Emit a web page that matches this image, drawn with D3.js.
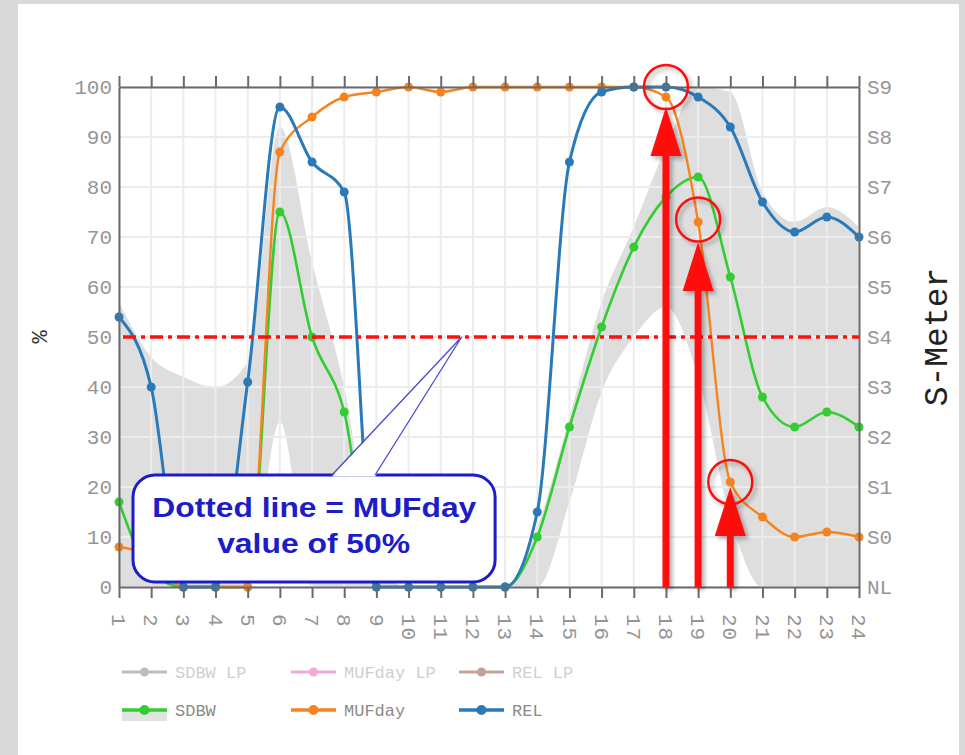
<!DOCTYPE html>
<html><head><meta charset="utf-8">
<script src="https://cdn.jsdelivr.net/npm/d3@7"></script>
<style>
html,body{margin:0;padding:0;background:#d9d9d9;}
svg{display:block;}
</style></head><body>
<svg id="chart" width="965" height="755"></svg>
<script>
// ---------- data ----------
const hours = [1,2,3,4,5,6,7,8,9,10,11,12,13,14,15,16,17,18,19,20,21,22,23,24];
const xTickLabels = ["1","2","3","4","5","6","7","8","9","10","11","12","13","14","15","16","17","18","19","20","21","22","23","24"];
const yTickValues = [0,10,20,30,40,50,60,70,80,90,100];
const yTickLabels = ["0","10","20","30","40","50","60","70","80","90","100"];
const sMeterLabels = ["NL","S0","S1","S2","S3","S4","S5","S6","S7","S8","S9"];
const relValues    = [54,40,0,0,41,96,85,79,0,0,0,0,0,15,85,99,100,100,98,92,77,71,74,70];
const mufdayValues = [8,6,0,0,0,87,94,98,99,100,99,100,100,100,100,100,100,98,73,21,14,10,11,10];
const sdbwValues   = [17,3,0,0,0,75,50,35,0,0,0,0,0,10,32,52,68,78,82,62,38,32,35,32];
const bandUpper    = [57,46,42,40,45,92,65,40,5,0,0,0,0,12,34,57,72,88,100,99,79,73,76,72];
const bandLower    = [0,0,0,0,0,33,0,0,0,0,0,0,0,0,17,39,50,56,42,14,0,0,0,0];
const mufThreshold = 50;
const arrowHours = [18,19,20];
const arrowTipValues = [96,69,20];
const circleHours = [18,19,20];
const circleValues = [100,73.5,21];
const legendRow1 = ["SDBW LP","MUFday LP","REL LP"];
const legendRow2 = ["SDBW","MUFday","REL"];
const calloutLines = ["Dotted line = MUFday","value of 50%"];

// ---------- styles ----------
const C = {
  rel:"#2a7ab9", muf:"#f58420", sdbw:"#33cc33",
  sdbwLP:"#bdbdbd", mufLP:"#f3a8da", relLP:"#c6a198",
  band:"#dedede", grid:"#ececec", axis:"#6a6a6a", tick:"#959595",
  red:"#ff1010", callout:"#1c1cc8"
};
const mono = "'Liberation Mono','DejaVu Sans Mono',monospace";

const svg = d3.select("#chart");
const x = d3.scaleLinear().domain([1,24]).range([119,859]);
const y = d3.scaleLinear().domain([0,100]).range([587,87]);

// panel
svg.append("rect").attr("x",18).attr("y",4).attr("width",941).attr("height",751).attr("fill","#fff");

const defs = svg.append("defs");
const f = defs.append("filter").attr("id","shadow").attr("x","-50%").attr("y","-50%").attr("width","200%").attr("height","200%");
f.append("feDropShadow").attr("dx",3).attr("dy",3).attr("stdDeviation",2).attr("flood-color","#000").attr("flood-opacity",0.3);

// band
const area = d3.area()
  .x((d,i)=>x(hours[i]))
  .y0((d,i)=>y(bandLower[i]))
  .y1(d=>y(d))
  .curve(d3.curveMonotoneX);
svg.append("path").datum(bandUpper).attr("d",area).attr("fill",C.band);

// grid
const grid = svg.append("g");
grid.selectAll("line.v").data(hours).join("line")
  .attr("x1",d=>x(d)).attr("x2",d=>x(d)).attr("y1",y(0)).attr("y2",y(100))
  .attr("stroke",C.grid).attr("stroke-width",2);
grid.selectAll("line.h").data(yTickValues).join("line")
  .attr("x1",x(1)).attr("x2",x(24)).attr("y1",d=>y(d)).attr("y2",d=>y(d))
  .attr("stroke",C.grid).attr("stroke-width",2);

// series
const line = d3.line().x((d,i)=>x(hours[i])).y(d=>y(d)).curve(d3.curveMonotoneX);
function drawSeries(vals,color,w){
  const g = svg.append("g");
  g.append("path").datum(vals).attr("d",line).attr("fill","none").attr("stroke",color).attr("stroke-width",w);
  g.selectAll("circle").data(vals).join("circle")
    .attr("cx",(d,i)=>x(hours[i])).attr("cy",d=>y(d)).attr("r",4.5).attr("fill",color);
}
drawSeries(sdbwValues,C.sdbw,2.6);
drawSeries(mufdayValues,C.muf,2.4);
drawSeries(relValues,C.rel,3);

// axes
function styleAxis(g){
  g.select(".domain").attr("stroke",C.axis).attr("stroke-width",2);
  g.selectAll(".tick line").attr("stroke",C.axis).attr("stroke-width",2);
  g.selectAll(".tick text").attr("fill",C.tick).attr("font-family",mono).attr("font-size",21);
}
const gTop = svg.append("g").attr("transform",`translate(0,${y(100)})`)
  .call(d3.axisTop(x).tickValues(hours).tickSize(11).tickSizeOuter(0).tickFormat(""));
styleAxis(gTop);
const gBot = svg.append("g").attr("transform",`translate(0,${y(0)})`)
  .call(d3.axisBottom(x).tickValues(hours).tickSize(11).tickSizeOuter(0).tickFormat((d,i)=>xTickLabels[i]));
styleAxis(gBot);
gBot.selectAll(".tick text").attr("x",0).attr("y",0).attr("dy","0.35em")
  .attr("transform","translate(0,27) rotate(90)").style("text-anchor","start").attr("letter-spacing",1);
const gLeft = svg.append("g").attr("transform",`translate(${x(1)},0)`)
  .call(d3.axisLeft(y).tickValues(yTickValues).tickSize(0).tickPadding(7).tickFormat((d,i)=>yTickLabels[i]));
styleAxis(gLeft);
const gRight = svg.append("g").attr("transform",`translate(${x(24)},0)`)
  .call(d3.axisRight(y).tickValues(yTickValues).tickSize(0).tickPadding(8).tickFormat((d,i)=>sMeterLabels[i]));
styleAxis(gRight);

// axis titles
svg.append("text").attr("transform",`translate(41,${y(50)}) rotate(-90)`)
  .attr("text-anchor","middle").attr("dominant-baseline","central")
  .attr("font-family",mono).attr("font-size",22).attr("fill","#333").text("%");
svg.append("text").attr("transform",`translate(938,${y(50)}) rotate(-90)`)
  .attr("text-anchor","middle").attr("dominant-baseline","central")
  .attr("font-family",mono).attr("font-size",33).attr("fill","#222").text("S-Meter");

// threshold line
svg.append("line").attr("x1",x(1)+4).attr("x2",x(24)).attr("y1",y(mufThreshold)).attr("y2",y(mufThreshold))
  .attr("stroke",C.red).attr("stroke-width",3.5).attr("stroke-dasharray","13,5,4,5");

// arrows
const ann = svg.append("g").attr("filter","url(#shadow)");
arrowHours.forEach((h,i)=>{
  const cx = x(h), tip = y(arrowTipValues[i]), base = tip+49, bot = y(0);
  ann.append("path")
    .attr("d",`M${cx},${tip} L${cx+15.5},${base} L${cx+3.5},${base} L${cx+3.5},${bot} L${cx-3.5},${bot} L${cx-3.5},${base} L${cx-15.5},${base} Z`)
    .attr("fill",C.red);
});
circleHours.forEach((h,i)=>{
  ann.append("circle").attr("cx",x(h)).attr("cy",y(circleValues[i])).attr("r",22)
    .attr("fill","none").attr("stroke",C.red).attr("stroke-width",2.5);
});

// callout
const bx0 = x(1.435), bx1 = x(12.69), by0 = y(22.4), by1 = y(1.0);
const pL = x(7.62), pR = x(8.96), tipX = x(11.65), tipY = y(mufThreshold);
const co = svg.append("g");
co.append("rect").attr("x",bx0).attr("y",by0).attr("width",bx1-bx0).attr("height",by1-by0)
  .attr("rx",22).attr("ry",22).attr("fill","#fff").attr("stroke",C.callout).attr("stroke-width",3);
co.append("path").attr("d",`M${pL},${by0+1.5} L${tipX},${tipY} L${pR},${by0+1.5} Z`)
  .attr("fill","#fff").attr("stroke","none");
co.append("path").attr("d",`M${pL},${by0} L${tipX},${tipY} L${pR},${by0}`)
  .attr("fill","none").attr("stroke","#4a4ad0").attr("stroke-width",1.3);
co.append("text").attr("x",x(7.07)).attr("y",y(14)).attr("text-anchor","middle")
  .attr("font-family","'Liberation Sans',Arial,sans-serif").attr("font-weight","bold").attr("font-size",28)
  .attr("fill",C.callout).attr("textLength",324).attr("lengthAdjust","spacingAndGlyphs").text(calloutLines[0]);
co.append("text").attr("x",x(7.05)).attr("y",y(6.8)).attr("text-anchor","middle")
  .attr("font-family","'Liberation Sans',Arial,sans-serif").attr("font-weight","bold").attr("font-size",28)
  .attr("fill",C.callout).attr("textLength",193).attr("lengthAdjust","spacingAndGlyphs").text(calloutLines[1]);

// legend
const legX = [122,291,459];
const row1Colors = [C.sdbwLP,C.mufLP,C.relLP];
const row2Colors = [C.sdbw,C.muf,C.rel];
const leg = svg.append("g");
legendRow1.forEach((t,i)=>{
  const g = leg.append("g").attr("transform",`translate(${legX[i]},672)`);
  g.append("line").attr("x1",0).attr("x2",45).attr("stroke",row1Colors[i]).attr("stroke-width",3);
  g.append("circle").attr("cx",22.5).attr("r",4.5).attr("fill",row1Colors[i]);
  g.append("text").attr("x",53).attr("dy","0.35em").attr("font-family",mono).attr("font-size",17)
    .attr("fill","#cfcfcf").text(t);
});
legendRow2.forEach((t,i)=>{
  const g = leg.append("g").attr("transform",`translate(${legX[i]},710)`);
  if(i===0) g.append("rect").attr("x",0).attr("y",1).attr("width",45).attr("height",10).attr("fill","#e2e2e2");
  g.append("line").attr("x1",0).attr("x2",45).attr("stroke",row2Colors[i]).attr("stroke-width",3.5);
  g.append("circle").attr("cx",22.5).attr("r",5).attr("fill",row2Colors[i]);
  g.append("text").attr("x",53).attr("dy","0.35em").attr("font-family",mono).attr("font-size",17)
    .attr("fill","#8a8a8a").text(t);
});
</script>
</body></html>
